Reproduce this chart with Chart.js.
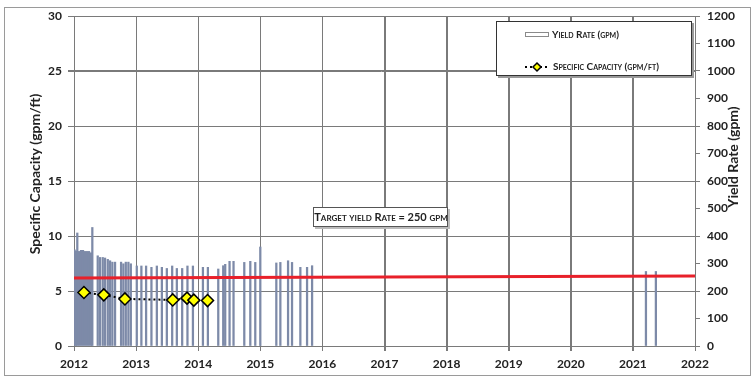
<!DOCTYPE html>
<html>
<head>
<meta charset="utf-8">
<script src="https://cdn.jsdelivr.net/npm/chart.js@4/dist/chart.umd.min.js"></script>
<style>
  html, body { margin: 0; padding: 0; background: #fff; }
  #wrap { width: 754px; height: 378px; }
</style>
</head>
<body>
<div id="wrap"><canvas id="myChart" width="754" height="378"></canvas></div>
<script>
// yield rate bars (decimal year, gpm)
var yieldYears = [2012.01, 2012.032, 2012.053, 2012.081, 2012.113, 2012.145, 2012.177, 2012.21, 2012.242, 2012.274, 2012.295,
  2012.382, 2012.419, 2012.463, 2012.5, 2012.544, 2012.581, 2012.618, 2012.661, 2012.758, 2012.795, 2012.834, 2012.876, 2012.915,
  2013.011, 2013.085, 2013.161, 2013.247, 2013.334, 2013.415, 2013.495, 2013.581, 2013.656, 2013.742, 2013.827, 2013.915,
  2014.076, 2014.156, 2014.323, 2014.403, 2014.435, 2014.505, 2014.569, 2014.742, 2014.839, 2014.919,
  2015.0, 2015.258, 2015.323, 2015.447, 2015.511, 2015.645, 2015.753, 2015.834,
  2021.21, 2021.37];
var yieldRates = [350, 345, 411, 344, 348, 348, 344, 344, 344, 339, 431,
  328, 322, 322, 320, 315, 310, 305, 305, 305, 299, 305, 305, 299,
  291, 291, 291, 286, 291, 286, 282, 291, 282, 282, 291, 291,
  286, 286, 280, 292, 297, 308, 308, 304, 308, 304,
  360, 302, 304, 310, 304, 286, 286, 292,
  271, 271];

// specific capacity points (decimal year, gpm/ft)
var scYears = [2012.16, 2012.48, 2012.82, 2013.59, 2013.82, 2013.93, 2014.15];
var scValues = [4.86, 4.65, 4.28, 4.19, 4.35, 4.17, 4.13];

// target yield rate line (gpm)
var targetYears = [2012, 2022];
var targetRates = [247, 255];

var xTicks = [2012, 2013, 2014, 2015, 2016, 2017, 2018, 2019, 2020, 2021, 2022];
var yTicks = [0, 5, 10, 15, 20, 25, 30];

var fontName = "Lato, 'Noto Sans', sans-serif";
var gridColor = '#7a7a7a';

function pts(xs, ys) {
  var out = [];
  for (var i = 0; i < xs.length; i++) out.push({ x: xs[i], y: ys[i] });
  return out;
}

//rejilla dibujada con las escalas del grafico
var rejilla = {
  id: 'rejilla',
  beforeDatasetsDraw: function (chart) {
    var c = chart.ctx;
    var a = chart.chartArea;
    var sx = chart.scales.x, sy = chart.scales.y;
    c.save();
    c.strokeStyle = gridColor;
    c.lineWidth = 1;
    c.beginPath();
    xTicks.forEach(function (v) {
      var px = Math.round(sx.getPixelForValue(v)) + 0.5;
      c.moveTo(px, a.top);
      c.lineTo(px, a.bottom + 5);
    });
    yTicks.forEach(function (v) {
      var py = Math.round(sy.getPixelForValue(v)) + 0.5;
      c.moveTo(a.left - 6, py);
      c.lineTo(a.right, py);
    });
    c.stroke();
    c.restore();
  }
};

//dibujo de titulos, leyenda, recuadro y borde
var decor = {
  id: 'decor',
  afterDraw: function (chart) {
    var c = chart.ctx;
    c.save();

    // borde exterior
    c.strokeStyle = '#9a9a9a';
    c.lineWidth = 1;
    c.strokeRect(4.5, 7.5, 746, 368);

    // titulos de ejes
    c.fillStyle = '#222';
    c.font = "bold 14px " + fontName;
    c.textAlign = 'center';
    c.textBaseline = 'middle';
    c.save();
    c.translate(35, 174);
    c.rotate(-Math.PI / 2);
    c.fillText('Specific Capacity (gpm/ft)', 0, 0);
    c.restore();
    c.save();
    c.translate(733, 157);
    c.rotate(-Math.PI / 2);
    c.fillText('Yield Rate (gpm)', 0, 0);
    c.restore();

    // recuadro objetivo
    c.fillStyle = '#bbb';
    c.fillRect(315, 209, 135, 20);
    c.fillStyle = '#fff';
    c.fillRect(313, 207, 135, 20);
    c.strokeStyle = '#555';
    c.strokeRect(313.5, 207.5, 134, 19);
    c.fillStyle = '#222';
    c.font = "small-caps bold 11px " + fontName;
    c.fontVariantCaps = 'small-caps';
    c.fillText('Target yield Rate = 250 gpm', 381, 217);

    // leyenda
    c.fillStyle = '#999';
    c.fillRect(498, 23, 196, 55);
    c.fillStyle = '#fff';
    c.fillRect(496, 21, 196, 55);
    c.strokeStyle = '#333';
    c.strokeRect(496.5, 21.5, 195, 54);

    c.fillStyle = '#fff';
    c.fillRect(525, 32, 24, 5);
    c.strokeStyle = '#8a8a8a';
    c.strokeRect(525.5, 32.5, 23, 4);

    c.strokeStyle = '#000';
    c.lineWidth = 2;
    c.setLineDash([2, 3]);
    c.beginPath();
    c.moveTo(525, 67);
    c.lineTo(550, 67);
    c.stroke();
    c.setLineDash([]);
    c.fillStyle = '#ffff00';
    c.lineWidth = 1.5;
    c.beginPath();
    c.moveTo(537, 63);
    c.lineTo(541, 67);
    c.lineTo(537, 71);
    c.lineTo(533, 67);
    c.closePath();
    c.fill();
    c.stroke();

    c.fillStyle = '#222';
    c.textAlign = 'left';
    c.font = "small-caps bold 10px " + fontName;
    c.fontVariantCaps = 'small-caps';
    c.fillText('Yield Rate (gpm)', 552, 35);
    c.fillText('Specific Capacity (gpm/ft)', 553, 67);
    c.restore();
  }
};

var ctx = document.getElementById("myChart").getContext("2d");
var myChart = new Chart(ctx, {
  type: 'bar',
  data: {
    datasets: [
      {
        type: 'line',
        label: 'Target yield rate',
        data: pts(targetYears, targetRates),
        yAxisID: 'y2',
        borderColor: '#e8202a',
        borderWidth: 3,
        pointRadius: 0,
        order: 2
      },
      {
        type: 'line',
        label: 'Specific Capacity (gpm/ft)',
        data: pts(scYears, scValues),
        yAxisID: 'y',
        borderColor: '#000',
        borderWidth: 2,
        borderDash: [2, 3],
        pointStyle: 'rectRot',
        pointRadius: 6,
        pointBackgroundColor: '#ffff00',
        pointBorderColor: '#000',
        pointBorderWidth: 1.5,
        order: 1
      },
      {
        type: 'bar',
        label: 'Yield Rate (gpm)',
        data: pts(yieldYears, yieldRates),
        yAxisID: 'y2',
        backgroundColor: '#7d8aa8',
        borderWidth: 0,
        barThickness: 1.6,
        grouped: false,
        order: 3
      }
    ]
  },
  options: {
    responsive: false,
    animation: false,
    layout: { padding: { top: 16, left: 0, right: 0, bottom: 0 } },
    plugins: {
      legend: { display: false },
      tooltip: { enabled: false }
    },
    scales: {
      x: {
        type: 'linear',
        min: 2012,
        max: 2022,
        offset: false,
        afterBuildTicks: function (s) { s.ticks = xTicks.map(function (v) { return { value: v }; }); },
        afterFit: function (s) { s.height = 32; },
        grid: { offset: false, color: gridColor, tickLength: 5, tickColor: gridColor },
        border: { color: gridColor },
        ticks: {
          padding: 6,
          maxRotation: 0,
          color: '#222',
          font: { family: fontName, size: 12, weight: 'bold' },
          callback: function (v) { return String(v); }
        }
      },
      y: {
        position: 'left',
        min: 0,
        max: 30,
        afterFit: function (s) { s.width = 74; },
        grid: { color: gridColor, tickLength: 6, tickColor: gridColor },
        border: { color: gridColor },
        ticks: {
          stepSize: 5,
          padding: 6,
          color: '#222',
          font: { family: fontName, size: 12, weight: 'bold' }
        }
      },
      y2: {
        position: 'right',
        min: 0,
        max: 1200,
        afterFit: function (s) { s.width = 59; },
        grid: { drawOnChartArea: false, tickLength: 5, tickColor: gridColor },
        border: { color: gridColor },
        ticks: {
          stepSize: 100,
          padding: 7,
          color: '#222',
          font: { family: fontName, size: 12, weight: 'bold' },
          callback: function (v) { return String(v); }
        }
      }
    }
  },
  plugins: [rejilla, decor]
});
</script>
</body>
</html>
